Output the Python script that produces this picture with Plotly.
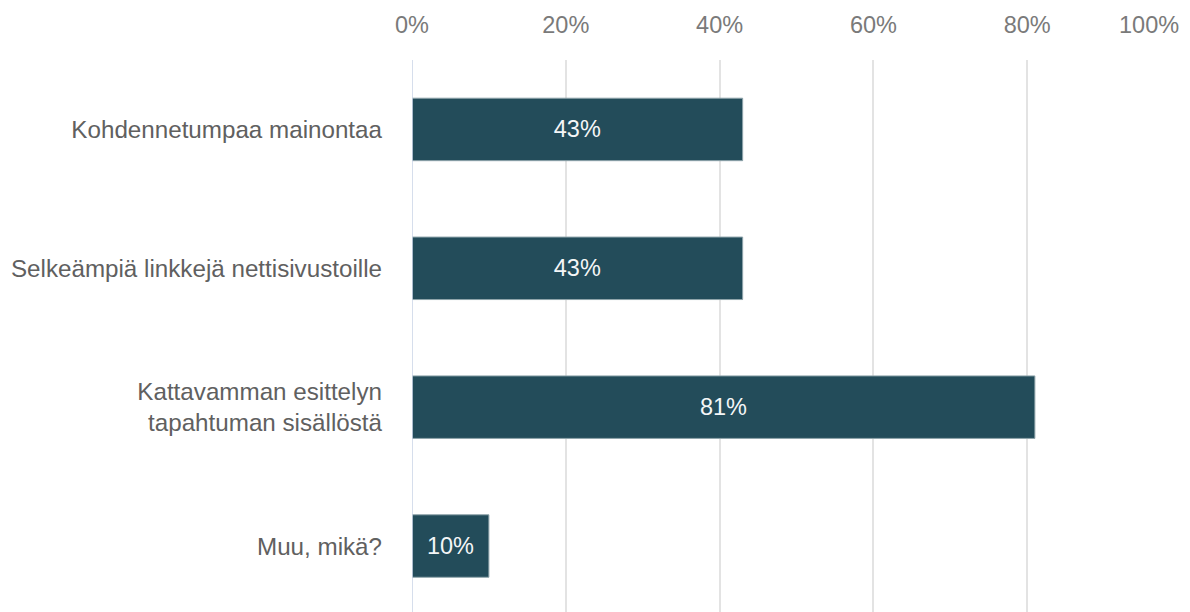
import plotly.graph_objects as go

categories = ["Kohdennetumpaa mainontaa",
              "Selkeämpiä linkkejä nettisivustoille",
              "Kattavamman esittelyn<br>tapahtuman sisällöstä",
              "Muu, mikä?"]
values = [43, 43, 81, 10]
tick_vals = [0, 20, 40, 60, 80]
tick_text = ["0%", "20%", "40%", "60%", "80%"]
last_tick = "100%"

FONT = "Liberation Sans, Arial, sans-serif"
FS = 23.5
FS_CAT = 24.2

fig = go.Figure(go.Bar(
    x=values, y=categories, orientation="h",
    marker=dict(color="#234c5a", line=dict(color="#8fa4ab", width=1)),
    width=0.45,
    text=[f"{v}%" for v in values], textposition="inside",
    insidetextanchor="middle",
    textfont=dict(color="#f4f6f7", size=FS, family=FONT),
    cliponaxis=False,
))

fig.add_annotation(x=100, y=1, xref="x", yref="paper", yanchor="bottom",
                   xanchor="right", text=last_tick, showarrow=False,
                   yshift=20, font=dict(color="#7a7a7a", size=FS, family=FONT))

fig.update_layout(
    width=1190, height=612,
    margin=dict(l=404, r=17, t=52, b=8, autoexpand=False),
    paper_bgcolor="white", plot_bgcolor="white",
    showlegend=False,
    font=dict(family=FONT, size=FS, color="#666666"),
    xaxis=dict(side="top", range=[0, 100], tickvals=tick_vals + [100],
               ticktext=tick_text + [""], automargin=False,
               showgrid=True, gridcolor="#e3e3e3", gridwidth=1.5,
               zeroline=False, showline=False, ticks="",
               tickfont=dict(color="#7a7a7a", size=FS, family=FONT),
               ticklabelstandoff=21, fixedrange=True),
    yaxis=dict(type="category", range=[3.475, -0.5], showgrid=False,
               automargin=False,
               zeroline=False, showline=False, ticks="",
               tickfont=dict(color="#606060", size=FS_CAT, family=FONT),
               ticklabelstandoff=29),
)
fig.add_shape(type="line", xref="x", yref="paper", x0=0, x1=0, y0=0, y1=1,
              line=dict(color="#c9d3e6", width=1.5))

fig.write_html("out.html")
